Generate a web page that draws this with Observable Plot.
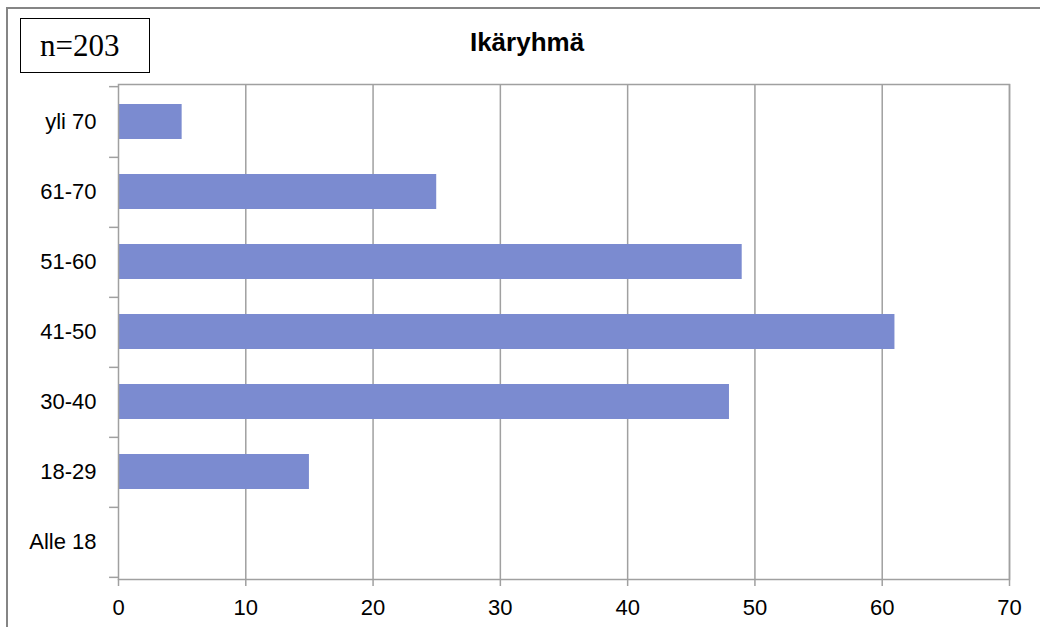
<!DOCTYPE html>
<html><head><meta charset="utf-8">
<script src="https://cdn.jsdelivr.net/npm/d3@7"></script>
<script src="https://cdn.jsdelivr.net/npm/@observablehq/plot@0.6"></script>
<style>
html,body{margin:0;padding:0;background:#fff;}
#wrap{position:relative;width:1040px;height:627px;overflow:hidden;background:#fff;}
#chart{position:absolute;left:0;top:0;}
#frame{position:absolute;left:6px;top:7px;right:-10px;bottom:-10px;border-left:2px solid #858585;border-top:2px solid #858585;pointer-events:none;}
#nbox{position:absolute;left:20px;top:18px;width:130px;height:55px;border:1px solid #000;box-sizing:border-box;font-family:"Liberation Serif","Times New Roman",serif;font-size:31px;line-height:54px;padding-left:19px;color:#000;background:#fff;}
#title{position:absolute;left:0;width:1054px;top:29px;text-align:center;font-family:"Liberation Sans",Arial,sans-serif;font-weight:bold;font-size:26px;line-height:26px;color:#000;}
</style>
</head><body>
<div id="wrap">
  <div id="chart"></div>
  <div id="frame"></div>
  <div id="nbox">n=203</div>
  <div id="title">Ikäryhmä</div>
</div>
<script>
const categories = ["yli 70", "61-70", "51-60", "41-50", "30-40", "18-29", "Alle 18"];
const counts = [5, 25, 49, 61, 48, 15, 0];
const xTicks = [0, 10, 20, 30, 40, 50, 60, 70];

const data = categories.map((c, i) => ({cat: c, count: counts[i]}));
const gray = "#a0a0a0";
const half = (627 - 84 - 48) / categories.length / 2;

const chart = Plot.plot({
  width: 1040,
  height: 627,
  marginLeft: 118,
  marginRight: 31,
  marginTop: 84,
  marginBottom: 48,
  style: {fontFamily: "'Liberation Sans', Arial, sans-serif", fontSize: "22px", color: "#000", background: "transparent"},
  x: {domain: [0, 70], label: null},
  y: {domain: categories, paddingInner: 0.5, paddingOuter: 0.25, label: null},
  marks: [
    Plot.gridX(xTicks.filter(v => v > 0), {stroke: gray, strokeOpacity: 1, strokeWidth: 1.5}),
    Plot.barX(data, {x: "count", y: "cat", fill: "#7b8bd0"}),
    Plot.frame({stroke: gray, strokeWidth: 1.5}),
    Plot.ruleY(categories, {y: d => d, x1: -0.7, x2: 0, dy: half, stroke: gray, strokeWidth: 1.5}),
    Plot.ruleY([categories[0]], {y: d => d, x1: -0.7, x2: 0, dy: -half, stroke: gray, strokeWidth: 1.5}),
    Plot.axisX({ticks: xTicks, tickSize: 7, tickPadding: 13, stroke: gray, strokeWidth: 1.5, fill: "#000", label: null}),
    Plot.axisY({tickSize: 0, tickPadding: 22, fill: "#000", label: null})
  ]
});
document.getElementById("chart").appendChild(chart);
</script>
</body></html>
